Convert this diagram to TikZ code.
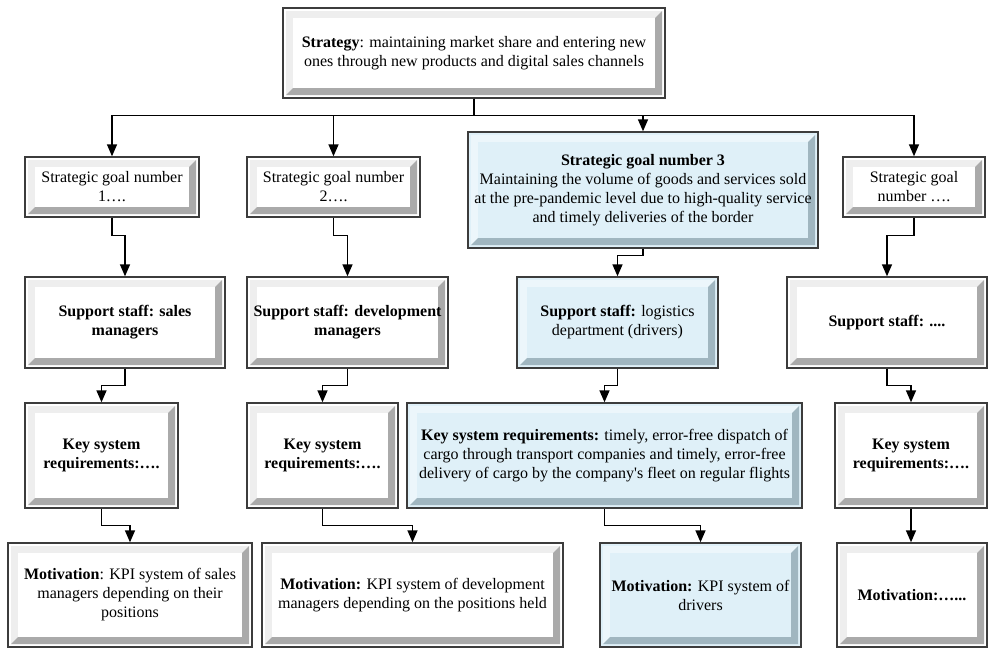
\documentclass[tikz,border=0pt]{standalone}
\usepackage{fontspec}
\setmainfont{Liberation Serif}[Ligatures=TeXOff]
\usetikzlibrary{arrows.meta}
\definecolor{frame}{RGB}{60,60,60}
\definecolor{bluef}{RGB}{223,240,248}
\definecolor{bluel}{RGB}{236,246,251}
\definecolor{blued}{RGB}{160,182,192}
\definecolor{whitel}{RGB}{238,238,238}
\definecolor{whited}{RGB}{170,170,170}
\newcommand{\fsz}{\fontsize{16}{19}\selectfont}
\tikzset{
  bevel/.style n args={3}{path picture={
    \coordinate (pa) at ([xshift=3pt,yshift=-3pt]path picture bounding box.north west);
    \coordinate (pb) at ([xshift=-3pt,yshift=3pt]path picture bounding box.south east);
    \fill[#2] (pa) rectangle (pb);
    \fill[#3] (pb) -- (pb |- pa) -- ([xshift=-7pt,yshift=-7pt]pb |- pa) -- ([xshift=-7pt,yshift=7pt]pb)
       -- ([xshift=7pt,yshift=7pt]pa |- pb) -- (pa |- pb) -- cycle;
    \fill[#1] ([xshift=7pt,yshift=-7pt]pa) rectangle ([xshift=-7pt,yshift=7pt]pb);
  }},
  bx/.style={draw=frame, line width=1.4pt, fill=white, inner sep=0pt, align=center, font=\fsz,
     bevel={white}{whitel}{whited}},
  bxb/.style={draw=frame, line width=1.4pt, fill=bluef, inner sep=0pt, align=center, font=\fsz,
     bevel={bluef}{bluel}{blued}},
  arr/.style={draw=black, line width=1.5pt, -{Triangle[width=10pt,length=12pt]}},
}
\begin{document}
\begin{tikzpicture}[x=1pt,y=-1pt]
\useasboundingbox[fill=white] (0,0) rectangle (988,648);
% row 0
\node[bx, minimum width=382pt, minimum height=90pt] (strat) at (474,53)
  {\textbf{Strategy}: maintaining market share and entering new\\ones through new products and digital sales channels};
% row 1
\node[bx, minimum width=174pt, minimum height=60pt] (g1) at (112,187) {Strategic goal number\\1….};
\node[bx, minimum width=173pt, minimum height=60pt] (g2) at (333.5,187) {Strategic goal number\\2….};
\node[bxb, minimum width=350pt, minimum height=116pt] (g3) at (643,190)
  {\textbf{Strategic goal number 3}\\Maintaining the volume of goods and services sold\\at the pre-pandemic level due to high-quality service\\and timely deliveries of the border};
\node[bx, minimum width=142pt, minimum height=60pt] (g4) at (914,187) {Strategic goal\\number ….};
% row 2
\node[bx, minimum width=200pt, minimum height=91pt] (s1) at (125,322.5) {\textbf{Support staff: sales}\\\textbf{managers}};
\node[bx, minimum width=201pt, minimum height=91pt] (s2) at (347.5,322.5) {\textbf{Support staff: development}\\\textbf{managers}};
\node[bxb, minimum width=201pt, minimum height=91pt] (s3) at (617.5,322.5) {\textbf{Support staff:} logistics\\department (drivers)};
\node[bx, minimum width=200pt, minimum height=91pt] (s4) at (887,322.5) {\textbf{Support staff: ....}};
% row 3
\node[bx, minimum width=153pt, minimum height=105pt] (k1) at (101.5,455.5) {\textbf{Key system}\\\textbf{requirements:….}};
\node[bx, minimum width=151pt, minimum height=105pt] (k2) at (322.5,455.5) {\textbf{Key system}\\\textbf{requirements:….}};
\node[bxb, minimum width=395pt, minimum height=105pt] (k3) at (604.5,455.5)
  {\textbf{Key system requirements:} timely, error-free dispatch of\\cargo through transport companies and timely, error-free\\delivery of cargo by the company's fleet on regular flights};
\node[bx, minimum width=152pt, minimum height=105pt] (k4) at (911,455.5) {\textbf{Key system}\\\textbf{requirements:….}};
% row 4
\node[bx, minimum width=244pt, minimum height=104pt] (m1) at (130,595) {\textbf{Motivation}: KPI system of sales\\managers depending on their\\positions};
\node[bx, minimum width=301pt, minimum height=104pt] (m2) at (412.5,595) {\textbf{Motivation:} KPI system of development\\managers depending on the positions held};
\node[bxb, minimum width=201pt, minimum height=104pt] (m3) at (700.5,595) {\textbf{Motivation:} KPI system of\\drivers};
\node[bx, minimum width=150pt, minimum height=104pt] (m4) at (912,595) {\textbf{Motivation:…...}};
% connectors
\draw[arr] (strat.south) -- ++(0,17) -| (g1.north);
\draw[arr] (strat.south) -- ++(0,17) -| (g2.north);
\draw[arr] (strat.south) -- ++(0,17) -| (g3.north);
\draw[arr] (strat.south) -- ++(0,17) -| (g4.north);
\draw[arr] (g1.south) -- ++(0,18) -| (s1.north);
\draw[arr] (g2.south) -- ++(0,18) -| (s2.north);
\draw[arr] (g3.south) -- ++(0,7) -| (s3.north);
\draw[arr] (g4.south) -- ++(0,18) -| (s4.north);
\draw[arr] (s1.south) -- ++(0,17) -| (k1.north);
\draw[arr] (s2.south) -- ++(0,17) -| (k2.north);
\draw[arr] (s3.south) -- ++(0,17) -| (k3.north);
\draw[arr] (s4.south) -- ++(0,17) -| (k4.north);
\draw[arr] (k1.south) -- ++(0,17) -| (m1.north);
\draw[arr] (k2.south) -- ++(0,17) -| (m2.north);
\draw[arr] (k3.south) -- ++(0,17) -| (m3.north);
\draw[arr] (k4.south) -- (k4.south |- m4.north);
\end{tikzpicture}
\end{document}
